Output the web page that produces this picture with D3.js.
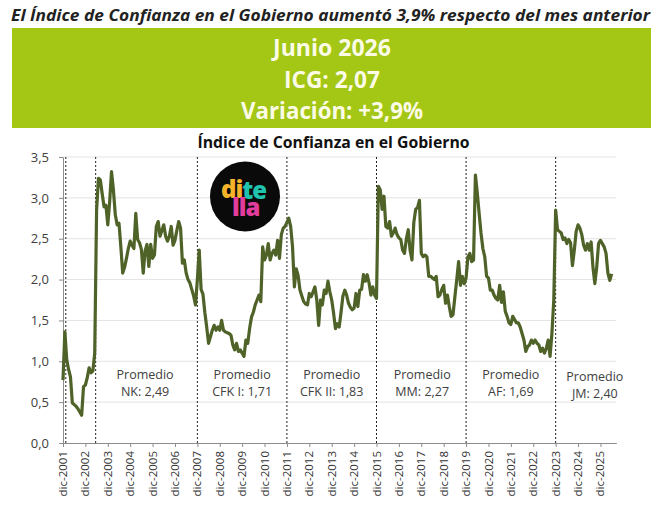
<!DOCTYPE html>
<html>
<head>
<meta charset="utf-8">
<script src="https://cdn.jsdelivr.net/npm/d3@7"></script>
<style>
    body { margin: 0; background: #fff; }
    svg { display: block; }
    text { font-family: "Open Sans", sans-serif; }
</style>
</head>
<body>
<div id="chart"></div>
<script>
// Monthly ICG values, starting dic-2001 (one row per year, dic to nov)
const icg = [
    0.77, 1.36, 1.02, 0.90, 0.81, 0.49, 0.47, 0.45, 0.42, 0.38, 0.34, 0.69,
    0.71, 0.80, 0.92, 0.86, 0.88, 1.10, 2.85, 3.24, 3.22, 3.05, 2.89, 2.91,
    2.67, 2.95, 3.32, 3.10, 2.80, 2.67, 2.69, 2.40, 2.08, 2.15, 2.26, 2.38,
    2.47, 2.42, 2.38, 2.81, 2.49, 2.45, 2.37, 2.08, 2.35, 2.43, 2.16, 2.43,
    2.26, 2.30, 2.65, 2.71, 2.53, 2.60, 2.67, 2.53, 2.47, 2.53, 2.65, 2.42,
    2.48, 2.60, 2.71, 2.63, 2.20, 2.24, 2.08, 2.00, 1.96, 1.88, 1.80, 1.69,
    2.00, 2.36, 1.88, 1.82, 1.60, 1.42, 1.22, 1.30, 1.38, 1.44, 1.38, 1.42,
    1.38, 1.50, 1.38, 1.36, 1.35, 1.34, 1.32, 1.20, 1.14, 1.22, 1.12, 1.14,
    1.10, 1.06, 1.26, 1.22, 1.40, 1.54, 1.60, 1.69, 1.75, 1.81, 1.73, 2.40,
    2.24, 2.30, 2.44, 2.24, 2.32, 2.36, 2.30, 2.48, 2.26, 2.55, 2.63, 2.65,
    2.70, 2.75, 2.65, 2.40, 1.91, 2.13, 2.05, 1.87, 1.80, 1.73, 1.70, 1.69,
    1.83, 1.79, 1.85, 1.91, 1.75, 1.44, 1.75, 1.69, 1.87, 1.83, 1.98, 1.85,
    1.75, 1.59, 1.40, 1.46, 1.42, 1.60, 1.80, 1.87, 1.81, 1.71, 1.66, 1.63,
    1.65, 1.83, 1.67, 1.87, 1.88, 2.06, 1.98, 2.06, 1.96, 1.81, 1.91, 1.81,
    1.77, 3.14, 3.10, 2.86, 3.02, 2.65, 2.63, 2.71, 2.53, 2.57, 2.63, 2.55,
    2.51, 2.49, 2.36, 2.32, 2.50, 2.61, 2.36, 2.24, 2.70, 2.86, 2.88, 2.97,
    2.32, 2.28, 2.30, 2.28, 2.04, 2.04, 2.02, 2.00, 2.04, 1.79, 1.81, 1.88,
    1.93, 1.71, 1.81, 1.67, 1.55, 1.57, 1.79, 2.00, 2.22, 1.93, 2.04, 1.95,
    2.02, 2.28, 2.32, 2.22, 2.24, 3.28, 3.06, 2.81, 2.57, 2.38, 2.28, 2.04,
    2.02, 1.87, 1.87, 1.81, 1.77, 1.75, 1.93, 1.72, 1.85, 1.61, 1.55, 1.47,
    1.45, 1.55, 1.51, 1.47, 1.47, 1.42, 1.34, 1.26, 1.12, 1.18, 1.20, 1.26,
    1.22, 1.26, 1.22, 1.20, 1.12, 1.16, 1.10, 1.16, 1.26, 1.06, 1.34, 1.75,
    2.85, 2.61, 2.59, 2.57, 2.49, 2.51, 2.44, 2.49, 2.45, 2.17, 2.36, 2.59,
    2.67, 2.63, 2.55, 2.42, 2.36, 2.44, 2.36, 2.46, 2.15, 1.95, 2.15, 2.44,
    2.48, 2.44, 2.40, 2.32, 2.08, 1.99, 2.07
];

// x tick labels (every 12 months from dic-2001)
const yearLabels = d3.range(2001, 2026).map(y => `dic-${y}`);
const yTicks = [0, 0.5, 1, 1.5, 2, 2.5, 3, 3.5];

// Government changes, in months since dic-2001
const breaks = [1.5, 17.5, 72, 120, 168, 216, 264];

// Period averages and where their labels sit (month index)
const periodNames = ['NK', 'CFK I', 'CFK II', 'MM', 'AF', 'JM'];
const periodAvg = [2.49, 1.71, 1.83, 2.27, 1.69, 2.40];
const periodCenter = [44, 96, 144, 192.5, 240, 285];

const headline = 'El Índice de Confianza en el Gobierno aumentó 3,9% respecto del mes anterior';
const boxLines = ['Junio 2026', 'ICG: 2,07', 'Variación: +3,9%'];
const chartTitle = 'Índice de Confianza en el Gobierno';

const W = 666, H = 509;
const svg = d3.select('#chart').append('svg')
    .attr('width', W)
    .attr('height', H);

// Headline
svg.append('text')
    .attr('x', 11).attr('y', 21)
    .attr('font-size', 16.5)
    .attr('font-weight', 700)
    .attr('font-style', 'italic')
    .attr('fill', '#222')
    .attr('textLength', 639)
    .attr('lengthAdjust', 'spacingAndGlyphs')
    .text(headline);

// Green summary box
svg.append('rect')
    .attr('x', 12).attr('y', 28)
    .attr('width', 639).attr('height', 100)
    .attr('fill', '#a4c614');

const boxY = [56, 88, 119];
const boxW = [118, 96, 182];
boxLines.forEach((t, i) => {
    svg.append('text')
        .attr('x', 332).attr('y', boxY[i])
        .attr('text-anchor', 'middle')
        .attr('font-size', 24)
        .attr('font-weight', 700)
        .attr('fill', '#fbfbe6')
        .attr('textLength', boxW[i])
        .attr('lengthAdjust', 'spacingAndGlyphs')
        .text(t);
});

// Chart title
svg.append('text')
    .attr('x', 333.5).attr('y', 147.5)
    .attr('text-anchor', 'middle')
    .attr('font-size', 16)
    .attr('font-weight', 700)
    .attr('fill', '#111')
    .attr('textLength', 272)
    .attr('lengthAdjust', 'spacingAndGlyphs')
    .text(chartTitle);

// Scales
const x = d3.scaleLinear().domain([0, 296.5]).range([63, 616.3]);
const y = d3.scaleLinear().domain([0, 3.5]).range([443, 157]);

// Gridlines
svg.append('g')
    .selectAll('line')
    .data(yTicks.filter(d => d > 0))
    .join('line')
    .attr('x1', x(0)).attr('x2', x.range()[1])
    .attr('y1', d => y(d)).attr('y2', d => y(d))
    .attr('stroke', '#e3e3e3')
    .attr('stroke-width', 1);

// Y axis
const yAxis = svg.append('g')
    .attr('transform', `translate(${x(0)},0)`)
    .call(d3.axisLeft(y).tickValues(yTicks).tickSize(4).tickSizeOuter(0)
        .tickFormat(d => d3.format('.1f')(d).replace('.', ',')));
yAxis.select('.domain').attr('stroke', '#8c8c8c');
yAxis.selectAll('.tick line').attr('stroke', '#8c8c8c');
yAxis.selectAll('.tick text')
    .attr('x', -14)
    .attr('font-family', '"Open Sans", sans-serif')
    .attr('font-size', 13)
    .attr('fill', '#404040');

// X axis
const xAxis = svg.append('g')
    .attr('transform', `translate(0,${y(0)})`)
    .call(d3.axisBottom(x).tickValues(yearLabels.map((_, i) => i * 12))
        .tickSize(4).tickSizeOuter(0).tickFormat(''));
xAxis.select('.domain').attr('stroke', '#8c8c8c');
xAxis.selectAll('.tick line').attr('stroke', '#8c8c8c');

svg.append('g')
    .selectAll('text')
    .data(yearLabels)
    .join('text')
    .attr('transform', (d, i) => `translate(${x(i * 12)},451) rotate(-90)`)
    .attr('text-anchor', 'end')
    .attr('dy', '0.35em')
    .attr('font-family', '"DejaVu Sans", sans-serif')
    .attr('font-size', 11.5)
    .attr('fill', '#333')
    .text(d => d);

// Dotted period separators
svg.append('g')
    .selectAll('line')
    .data(breaks)
    .join('line')
    .attr('x1', d => x(d)).attr('x2', d => x(d))
    .attr('y1', y(3.5)).attr('y2', y(0))
    .attr('stroke', '#222')
    .attr('stroke-width', 1)
    .attr('stroke-dasharray', '2,2');

// Period average labels (two lines each)
periodNames.forEach((name, i) => {
    const dy = name === 'JM' ? 2 : 0;
    const cx = x(periodCenter[i]);
    const lines = ['Promedio', `${name}: ${d3.format('.2f')(periodAvg[i]).replace('.', ',')}`];
    lines.forEach((txt, k) => {
        svg.append('text')
            .attr('x', cx).attr('y', 379 + dy + k * 17)
            .attr('text-anchor', 'middle')
            .attr('font-size', 12.5)
            .attr('fill', '#404040')
            .text(txt);
    });
});

// ICG line
const line = d3.line()
    .x((d, i) => x(i))
    .y(d => y(d));

svg.append('path')
    .datum(icg)
    .attr('d', line)
    .attr('fill', 'none')
    .attr('stroke', '#4f6228')
    .attr('stroke-width', 3.2)
    .attr('stroke-linejoin', 'round');

// Di Tella logo
const logo = svg.append('g').attr('transform', 'translate(245,196.5)');
logo.append('circle').attr('r', 35).attr('fill', '#0a0a0a');
const logoTop = logo.append('text')
    .attr('x', -24).attr('y', 1.5)
    .attr('font-family', 'Lato, sans-serif')
    .attr('font-weight', 900)
    .attr('font-size', 24)
    .attr('letter-spacing', -1);
logoTop.append('tspan').attr('fill', '#f5b32a').text('di');
logoTop.append('tspan').attr('fill', '#1fc3ae').attr('dy', 1).text('te');
logo.append('text')
    .attr('x', -13).attr('y', 19)
    .attr('font-family', 'Lato, sans-serif')
    .attr('font-weight', 900)
    .attr('font-size', 24)
    .attr('letter-spacing', -1)
    .attr('fill', '#e23c9c')
    .text('lla');
</script>
</body>
</html>
